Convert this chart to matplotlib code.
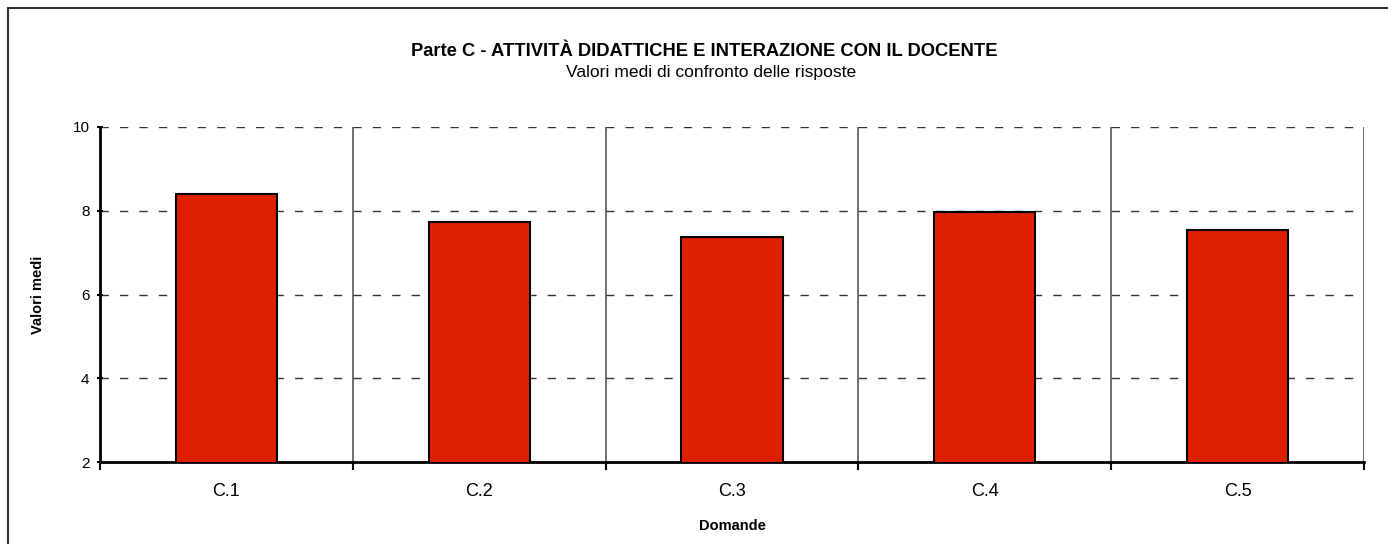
import matplotlib.pyplot as plt
from matplotlib.lines import Line2D

categories = ['C.1', 'C.2', 'C.3', 'C.4', 'C.5']
values = [8.40, 7.74, 7.38, 7.97, 7.53]
yticks = [2, 4, 6, 8, 10]

plt.rcParams['font.family'] = ['Liberation Sans', 'DejaVu Sans']

fig = plt.figure(figsize=(13.88, 5.44), dpi=100)
ax = fig.add_axes([100 / 1388, 82 / 544, 1264 / 1388, 335 / 544])

x = list(range(len(categories)))
ax.bar(x, values, width=0.40, bottom=0, color='#DD2000', edgecolor='black',
       linewidth=1.5, zorder=3)

ax.set_xlim(-0.5, len(categories) - 0.5)
ax.set_ylim(2, 10)
ax.set_yticks(yticks)
ax.set_yticklabels([str(v) for v in yticks], fontsize=11)

# category labels centred, ticks at category boundaries
ax.set_xticks(x)
ax.set_xticklabels(categories, fontsize=13)
ax.tick_params(axis='x', length=0, pad=15)
ax.set_xticks([i + 0.5 for i in range(-1, len(categories))], minor=True)
ax.tick_params(axis='x', which='minor', length=6, width=1.5, direction='out')
ax.tick_params(axis='y', length=5, width=1.5, direction='inout', pad=5)

# horizontal dashed grid
for v in yticks[1:]:
    ax.axhline(v, color='#333333', linewidth=1, dashes=(6, 8), zorder=1)
# vertical boundaries between categories
for b in [i + 0.5 for i in range(len(categories))]:
    ax.axvline(b, color='#555555', linewidth=1.2, zorder=1)

for s in ['top', 'right']:
    ax.spines[s].set_visible(False)
ax.spines['left'].set_linewidth(2)
ax.spines['bottom'].set_linewidth(2)

ax.set_ylabel('Valori medi', fontsize=10.5, fontweight='bold', labelpad=20)
ax.set_xlabel('Domande', fontsize=10.5, fontweight='bold', labelpad=14)

fig.text(704 / 1388, 1 - 52 / 544, 'Parte C - ATTIVITÀ DIDATTICHE E INTERAZIONE CON IL DOCENTE',
         ha='center', va='center', fontsize=13.2, fontweight='bold')
fig.text(711 / 1388, 1 - 73 / 544, 'Valori medi di confronto delle risposte',
         ha='center', va='center', fontsize=12.6)

# outer frame (only left and top visible)
fig.add_artist(Line2D([8 / 1388, 8 / 1388], [0, 1 - 8 / 544], color='#333333', linewidth=1.5))
fig.add_artist(Line2D([8 / 1388, 1], [1 - 8 / 544, 1 - 8 / 544], color='#333333', linewidth=1.5))

fig.savefig('out.png', dpi=100)
